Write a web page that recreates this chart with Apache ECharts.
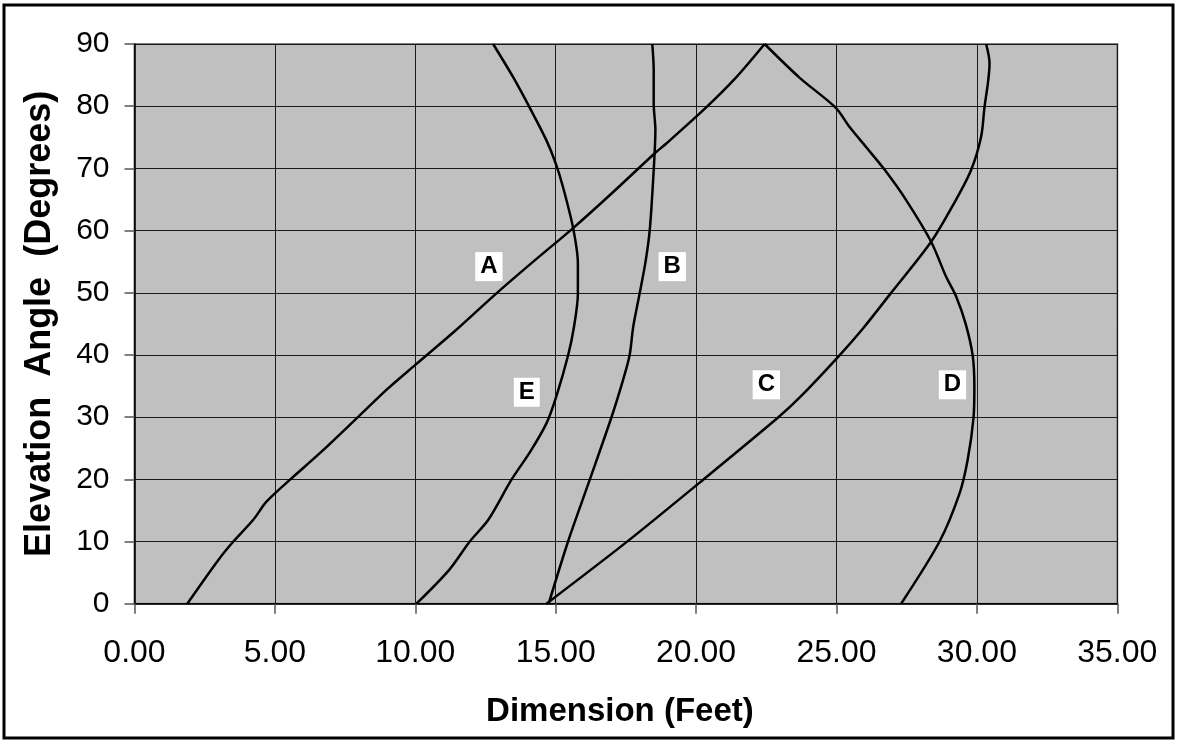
<!DOCTYPE html>
<html>
<head>
<meta charset="utf-8">
<script src="https://cdn.jsdelivr.net/npm/echarts@6/dist/echarts.min.js"></script>
<style>
html,body{margin:0;padding:0;background:#fff;}
#c{width:1177px;height:742px;}
</style>
</head>
<body>
<div id="c"></div>
<script>
// Dimension (feet) vs elevation angle (degrees): [x, y] pairs
var curveA = [[1.88,0],[2.98,7],[3.52,10],[4.23,13.5],[4.7,16.4],[5.53,19.9],[6.6,24.2],[7.91,29.8],[9.0,34.5],[10.0,38.4],[11.4,43.8],[12.89,49.9],[14.2,55.0],[15.62,60.4],[17.0,66.0],[18.52,72.4],[18.94,74.0],[20.36,79.8],[21.4,84.5],[22.44,90]];
var curveD = [[22.44,90],[23.68,84.6],[24.96,79.8],[25.46,76.7],[26.06,73.4],[26.71,69.8],[27.48,64.9],[28.37,58.2],[28.9,52.6],[29.26,49.4],[29.6,45],[29.85,39.9],[29.91,34.9],[29.88,29.9],[29.67,23.1],[29.38,17.7],[28.67,10.0],[27.3,0]];
var curveC = [[14.67,0],[17.52,9.9],[20.24,19.9],[22.91,29.9],[23.7,33.2],[25.1,39.9],[25.95,44.3],[26.93,49.9],[28.37,58.2],[29.2,64.5],[29.79,69.7],[30.15,75.1],[30.27,79.8],[30.4,84],[30.45,86.9],[30.33,90]];
var curveE = [[10.04,0],[11.2,5.4],[11.94,10.0],[12.6,13.5],[13.42,19.9],[14.1,24.5],[14.67,29.0],[15.02,33.3],[15.44,39.9],[15.65,44.5],[15.79,49.9],[15.79,54.7],[15.62,60.4],[15.26,67.0],[15.0,70.8],[14.67,74.5],[14.07,79.8],[13.48,84.7],[12.77,90]];
var curveB = [[14.75,0],[15.44,10.0],[16.21,19.9],[16.98,29.9],[17.4,36.0],[17.63,39.9],[17.76,44.5],[17.99,49.9],[18.2,55],[18.35,60.1],[18.49,69.7],[18.55,76.2],[18.49,80.4],[18.49,85.8],[18.44,90]];
var curveLabels = [
  {name:'A', value:[12.62,54.2]},
  {name:'B', value:[19.15,54.2]},
  {name:'C', value:[22.5,35.2]},
  {name:'D', value:[29.13,35.2]},
  {name:'E', value:[13.97,34.0]}
];
var xTitle = 'Dimension (Feet)';
var yTitle = 'Elevation  Angle  (Degrees)';

var font = 'Liberation Sans, Arial, sans-serif';
function curve(name, data){
  return {name:name, type:'line', data:data, showSymbol:false, smooth:0.3,
    lineStyle:{color:'#000', width:2.5}, z:3, silent:true};
}
var chart = echarts.init(document.getElementById('c'), null, {renderer:'canvas'});
chart.setOption({
  animation:false,
  backgroundColor:'#fff',
  grid:{left:134.5, right:59.7, top:44, bottom:138.3, show:true, backgroundColor:'#c0c0c0', borderColor:'#808080', borderWidth:2},
  xAxis:{type:'value', min:0, max:35, interval:5,
    name:xTitle, nameLocation:'middle', nameGap:92,
    nameTextStyle:{fontFamily:font, fontSize:33, fontWeight:'bold', color:'#000', padding:[0,12,0,0]},
    axisLine:{show:true, onZero:false, lineStyle:{color:'#000', width:1.5}},
    axisTick:{show:true, length:10, lineStyle:{color:'#555', width:1.5}},
    axisLabel:{fontFamily:font, fontSize:32, color:'#000', margin:33, formatter:function(v){return v.toFixed(2);}},
    splitLine:{show:true, lineStyle:{color:'#1a1a1a', width:1}}
  },
  yAxis:{type:'value', min:0, max:90, interval:10,
    name:yTitle, nameLocation:'middle', nameGap:76, nameRotate:90,
    nameTextStyle:{fontFamily:font, fontSize:36, fontWeight:'bold', color:'#000'},
    axisLine:{show:true, onZero:false, lineStyle:{color:'#000', width:1.5}},
    axisTick:{show:true, length:10, lineStyle:{color:'#555', width:1.5}},
    axisLabel:{fontFamily:font, fontSize:30, color:'#000', margin:25},
    splitLine:{show:true, lineStyle:{color:'#1a1a1a', width:1}}
  },
  graphic:[{type:'rect', shape:{x:4, y:5, width:1169, height:733}, style:{fill:'none', stroke:'#000', lineWidth:3}, silent:true, z:10}],
  series:[
    curve('A', curveA), curve('D', curveD), curve('C', curveC), curve('E', curveE), curve('B', curveB),
    {type:'scatter', data:curveLabels, symbolSize:1, itemStyle:{color:'rgba(0,0,0,0)', opacity:1}, z:5, silent:true,
     label:{show:true, position:'inside', formatter:'{b}', fontFamily:font, fontSize:24, fontWeight:'bold', color:'#000',
       backgroundColor:'#fff', padding:[3,5,2,5]}}
  ]
});
</script>
</body>
</html>
